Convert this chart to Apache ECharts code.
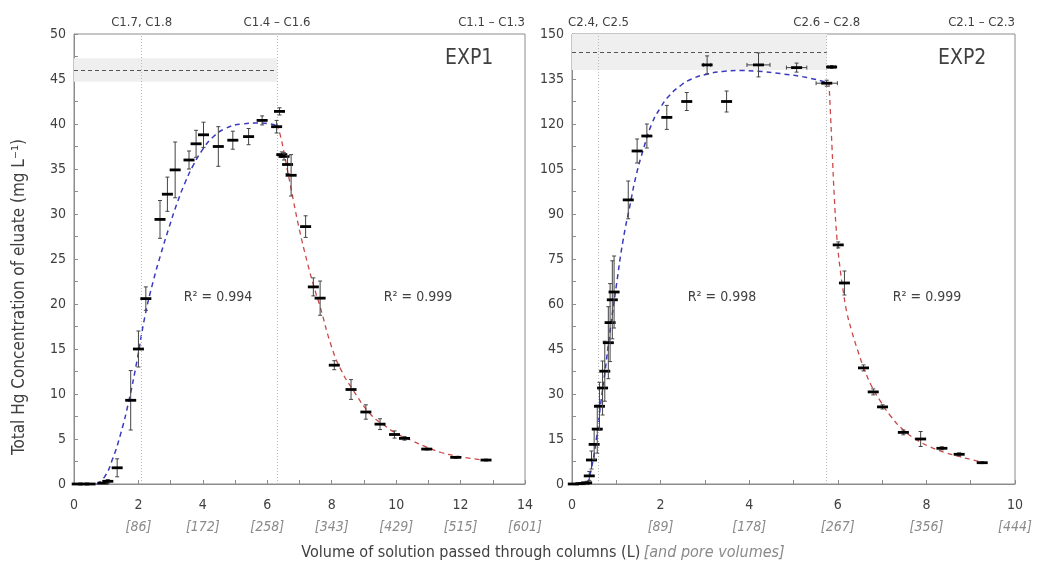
<!DOCTYPE html>
<html>
<head>
<meta charset="utf-8">
<script src="https://cdn.jsdelivr.net/npm/echarts@6/dist/echarts.min.js"></script>
<style>
html, body { margin: 0; background: #fff; }
#main { width: 1037px; height: 569px; }
</style>
</head>
<body>
<div id="main"></div>
<script>
// EXP1 measured points: volume (L), Hg (mg/L), vertical error, horizontal error
var volL = [0.1, 0.3, 0.5, 0.9, 1.05, 1.34, 1.76, 2.0, 2.23, 2.67, 2.9, 3.14, 3.57, 3.79, 4.02, 4.48, 4.93, 5.42, 5.84, 6.29, 6.38, 6.45, 6.52, 6.63, 6.74, 7.19, 7.43, 7.64, 8.08, 8.6, 9.06, 9.5, 9.95, 10.26, 10.95, 11.85, 12.79];
var hgL  = [0, 0, 0, 0.1, 0.3, 1.8, 9.3, 15.0, 20.6, 29.4, 32.2, 34.9, 36.0, 37.8, 38.8, 37.5, 38.2, 38.6, 40.4, 39.7, 41.4, 36.6, 36.4, 35.5, 34.3, 28.6, 21.9, 20.65, 13.2, 10.5, 8.0, 6.65, 5.5, 5.07, 3.88, 2.96, 2.66];
var errL = [0, 0, 0, 0, 0.2, 1.0, 3.3, 2.0, 1.3, 2.1, 1.9, 3.1, 1.0, 1.5, 1.4, 2.2, 1.0, 0.9, 0.5, 0.7, 0.4, 0.3, 0.4, 1.0, 2.3, 1.2, 1.0, 1.9, 0.5, 1.1, 0.8, 0.6, 0.4, 0.2, 0.1, 0.1, 0.1];
var xErrL = [0, 0, 0, 0, 0, 0, 0, 0, 0, 0, 0, 0, 0, 0, 0, 0, 0, 0, 0, 0, 0, 0, 0, 0, 0, 0, 0, 0, 0, 0, 0, 0, 0, 0, 0, 0, 0];

// EXP2 measured points
var volR = [0.03, 0.2, 0.27, 0.33, 0.39, 0.44, 0.5, 0.57, 0.62, 0.69, 0.74, 0.82, 0.86, 0.91, 0.95, 1.27, 1.47, 1.69, 2.14, 2.59, 3.05, 3.49, 4.21, 5.07, 5.75, 5.86, 6.01, 6.15, 6.58, 6.8, 7.01, 7.48, 7.87, 8.35, 8.74, 9.26];
var hgR  = [0, 0.1, 0.2, 0.4, 2.7, 8.0, 13.2, 18.3, 25.9, 32.0, 37.6, 47.1, 53.8, 61.4, 64.0, 94.7, 111.0, 116.0, 122.2, 127.5, 139.7, 127.5, 139.7, 138.8, 133.6, 139.0, 79.7, 67.0, 38.7, 30.7, 25.7, 17.2, 15.0, 11.9, 9.9, 7.1];
var errR = [0, 0, 0, 0.5, 1.5, 3, 5, 8, 8, 9, 10, 12, 13, 13, 12, 6.3, 4, 4, 4, 3, 3, 3.5, 4, 1.5, 1, 0.5, 1, 4, 1, 1, 0.7, 0.8, 2.5, 0.5, 0.5, 0.3];
var xErrR = [0, 0, 0, 0, 0, 0, 0, 0, 0, 0, 0, 0, 0, 0, 0, 0, 0, 0, 0, 0, 0.08, 0, 0.26, 0.23, 0.24, 0.08, 0, 0, 0, 0, 0, 0, 0, 0, 0, 0];

// fitted curves
var fitUpL = [[0.7, 0], [0.95, 0.8], [1.2, 2.8], [1.45, 5.6], [1.7, 9.2], [1.95, 13.6], [2.2, 18.6], [2.45, 22.4], [2.7, 25.6], [2.95, 28.5], [3.2, 31.2], [3.45, 33.5], [3.7, 35.4], [4.0, 37.2], [4.3, 38.5], [4.7, 39.5], [5.2, 40.0], [5.7, 40.1], [6.1, 40.0], [6.3, 39.8]];
var fitDownL = [[6.3, 40.0], [6.4, 38.8], [6.5, 37.2], [6.63, 34.8], [6.81, 31.5], [7.0, 28.2], [7.23, 24.8], [7.45, 21.9], [7.64, 19.7], [8.0, 15.2], [8.3, 12.6], [8.67, 10.4], [9.19, 7.8], [9.6, 6.6], [10.02, 5.6], [10.5, 4.8], [10.95, 4.1], [11.4, 3.5], [11.88, 3.1], [12.3, 2.85], [12.82, 2.6]];
var fitUpR = [[0.35, 0], [0.45, 6], [0.55, 15], [0.65, 27], [0.75, 38], [0.85, 50], [1.0, 66], [1.15, 81], [1.31, 93], [1.45, 103], [1.6, 111], [1.8, 120], [2.0, 125.5], [2.2, 129.5], [2.45, 132.8], [2.7, 135], [3.04, 136.6], [3.4, 137.5], [3.8, 137.8], [4.2, 137.6], [4.7, 136.8], [5.3, 135.5], [5.75, 133.8]];
var fitDownR = [[5.8, 134], [5.83, 125], [5.87, 112], [5.92, 96], [5.98, 82], [6.05, 72], [6.12, 64.5], [6.2, 57.5], [6.31, 51.2], [6.45, 44.5], [6.58, 39], [6.75, 33], [6.95, 27.9], [7.2, 22.5], [7.48, 18], [7.75, 15], [8.08, 12.4], [8.4, 10.6], [8.76, 9.1], [9.05, 8], [9.36, 6.9]];

// column markers and influent band
var colLinesL = [2.1, 6.3, 14];
var colNamesL = ['C1.7, C1.8', 'C1.4 \u2013 C1.6', 'C1.1 \u2013 C1.3'];
var colLinesR = [0.6, 5.75, 10];
var colNamesR = ['C2.4, C2.5', 'C2.6 \u2013 C2.8', 'C2.1 \u2013 C2.3'];
var bandL = [44.7, 46.0, 47.3];
var bandR = [138, 143.8, 150];

var poreL = ['', '[86]', '[172]', '[258]', '[343]', '[429]', '[515]', '[601]'];
var poreR = ['', '[89]', '[178]', '[267]', '[356]', '[444]'];

var FONT = "'Liberation Sans Narrow', 'Arial Narrow', 'DejaVu Sans Condensed', sans-serif";
var AX = '#8c8c8c';

function zip(xs, ys, ey, ex) {
	return xs.map(function (x, i) { return [x, ys[i], ey[i], ex[i]]; });
}

function drawPts(params, api) {
	var x = api.value(0), y = api.value(1), ey = api.value(2), ex = api.value(3);
	var c = api.coord([x, y]);
	var st = { stroke: '#444', lineWidth: 1 };
	var kids = [];
	if (ey > 0) {
		var t = api.coord([x, y + ey])[1], b = api.coord([x, y - ey])[1];
		kids.push({ type: 'line', shape: { x1: c[0], y1: t, x2: c[0], y2: b }, style: st });
		kids.push({ type: 'line', shape: { x1: c[0] - 2, y1: t, x2: c[0] + 2, y2: t }, style: st });
		kids.push({ type: 'line', shape: { x1: c[0] - 2, y1: b, x2: c[0] + 2, y2: b }, style: st });
	}
	if (ex > 0) {
		var l = api.coord([x - ex, y])[0], r = api.coord([x + ex, y])[0];
		kids.push({ type: 'line', shape: { x1: l, y1: c[1], x2: r, y2: c[1] }, style: st });
		kids.push({ type: 'line', shape: { x1: l, y1: c[1] - 2, x2: l, y2: c[1] + 2 }, style: st });
		kids.push({ type: 'line', shape: { x1: r, y1: c[1] - 2, x2: r, y2: c[1] + 2 }, style: st });
	}
	kids.push({ type: 'rect', shape: { x: c[0] - 5.5, y: c[1] - 1.4, width: 11, height: 2.8 }, style: { fill: '#000' } });
	return { type: 'group', children: kids };
}

function colMarks(pos, names) {
	return pos.map(function (p, i) {
		var last = i === pos.length - 1;
		return {
			xAxis: p,
			lineStyle: { color: last ? 'transparent' : '#b8b8b8', type: [1, 2], width: 1 },
			label: { formatter: names[i], align: last ? 'right' : 'center' }
		};
	});
}

function xMain(g, max) {
	return {
		type: 'value', gridIndex: g, min: 0, max: max, interval: 2,
		axisLine: { lineStyle: { color: AX } },
		axisTick: { inside: true, length: 4, lineStyle: { color: AX } },
		minorTick: { show: true, splitNumber: 2, length: 4, lineStyle: { color: AX } },
		splitLine: { show: false },
		axisLabel: { color: '#404040', fontSize: 14, fontFamily: FONT, margin: 14 }
	};
}

function xPore(g, max, labels) {
	return {
		type: 'value', gridIndex: g, min: 0, max: max, interval: 2, position: 'bottom', offset: 22,
		axisLine: { show: false }, axisTick: { show: false }, splitLine: { show: false },
		axisLabel: {
			color: '#8a8a8a', fontSize: 14, fontStyle: 'italic', fontFamily: FONT, margin: 14,
			formatter: function (v) { return labels[Math.round(v / 2)] || ''; }
		}
	};
}

function yMain(g, max, step) {
	return {
		type: 'value', gridIndex: g, min: 0, max: max, interval: step,
		axisLine: { show: true, lineStyle: { color: AX } },
		axisTick: { show: true, inside: true, length: 4, lineStyle: { color: AX } },
		minorTick: { show: true, splitNumber: 2, length: 4, lineStyle: { color: AX } },
		splitLine: { show: false },
		axisLabel: { color: '#404040', fontSize: 14, fontFamily: FONT, margin: 8 }
	};
}

var chart = echarts.init(document.getElementById('main'));

var option = {
	animation: false,
	backgroundColor: '#fff',
	grid: [
		{ left: 74, top: 34, width: 451, height: 450, show: true, borderColor: AX, borderWidth: 1 },
		{ left: 572, top: 34, width: 443, height: 450, show: true, borderColor: AX, borderWidth: 1 }
	],
	xAxis: [xMain(0, 14), xMain(1, 10), xPore(0, 14, poreL), xPore(1, 10, poreR)],
	yAxis: [yMain(0, 50, 5), yMain(1, 150, 15)],
	graphic: [
		{ type: 'text', left: 445, top: 48, style: { text: 'EXP1', fontSize: 21, fill: '#404040', fontFamily: FONT } },
		{ type: 'text', left: 938, top: 48, style: { text: 'EXP2', fontSize: 21, fill: '#404040', fontFamily: FONT } },
		{ type: 'text', x: 218, y: 297, style: { text: 'R\u00b2 = 0.994', fontSize: 14, fill: '#404040', fontFamily: FONT, align: 'center', verticalAlign: 'middle' } },
		{ type: 'text', x: 418, y: 297, style: { text: 'R\u00b2 = 0.999', fontSize: 14, fill: '#404040', fontFamily: FONT, align: 'center', verticalAlign: 'middle' } },
		{ type: 'text', x: 722, y: 297, style: { text: 'R\u00b2 = 0.998', fontSize: 14, fill: '#404040', fontFamily: FONT, align: 'center', verticalAlign: 'middle' } },
		{ type: 'text', x: 927, y: 297, style: { text: 'R\u00b2 = 0.999', fontSize: 14, fill: '#404040', fontFamily: FONT, align: 'center', verticalAlign: 'middle' } },
		{
			type: 'text', x: 20, y: 297, rotation: Math.PI / 2,
			style: { text: 'Total Hg Concentration of eluate (mg L\u207b\u00b9)', fontSize: 17, fill: '#404040', fontFamily: FONT, align: 'center', verticalAlign: 'middle' }
		},
		{
			type: 'text', x: 543, y: 553,
			style: {
				text: '{a|Volume of solution passed through columns (L)} {b|[and pore volumes]}',
				align: 'center', verticalAlign: 'middle',
				rich: {
					a: { fontSize: 16, fill: '#404040', color: '#404040', fontFamily: FONT },
					b: { fontSize: 16, fill: '#8a8a8a', color: '#8a8a8a', fontStyle: 'italic', fontFamily: FONT }
				}
			}
		}
	],
	series: [
		{
			type: 'line', xAxisIndex: 0, yAxisIndex: 0, data: [], silent: true,
			markArea: {
				silent: true, itemStyle: { color: '#efefef' },
				data: [[{ coord: [0, bandL[0]] }, { coord: [colLinesL[1], bandL[2]] }]]
			},
			markLine: {
				silent: true, symbol: 'none',
				label: { position: 'end', color: '#404040', fontSize: 13, fontFamily: FONT, distance: 5 },
				data: colMarks(colLinesL, colNamesL).concat([[
					{ coord: [0, bandL[1]], lineStyle: { color: '#555', type: [4, 3], width: 1 }, label: { show: false } },
					{ coord: [colLinesL[1], bandL[1]] }
				]])
			}
		},
		{
			type: 'line', xAxisIndex: 1, yAxisIndex: 1, data: [], silent: true,
			markArea: {
				silent: true, itemStyle: { color: '#efefef' },
				data: [[{ coord: [0, bandR[0]] }, { coord: [colLinesR[1], bandR[2]] }]]
			},
			markLine: {
				silent: true, symbol: 'none',
				label: { position: 'end', color: '#404040', fontSize: 13, fontFamily: FONT, distance: 5 },
				data: colMarks(colLinesR, colNamesR).concat([[
					{ coord: [0, bandR[1]], lineStyle: { color: '#555', type: [4, 3], width: 1 }, label: { show: false } },
					{ coord: [colLinesR[1], bandR[1]] }
				]])
			}
		},
		{ type: 'line', xAxisIndex: 0, yAxisIndex: 0, data: fitUpL, smooth: true, showSymbol: false, lineStyle: { color: '#3b3bbf', width: 1.5, type: [5, 4] } },
		{ type: 'line', xAxisIndex: 0, yAxisIndex: 0, data: fitDownL, smooth: true, showSymbol: false, lineStyle: { color: '#c94a4a', width: 1.3, type: [5, 4] } },
		{ type: 'line', xAxisIndex: 1, yAxisIndex: 1, data: fitUpR, smooth: true, showSymbol: false, lineStyle: { color: '#3b3bbf', width: 1.5, type: [5, 4] } },
		{ type: 'line', xAxisIndex: 1, yAxisIndex: 1, data: fitDownR, smooth: true, showSymbol: false, lineStyle: { color: '#c94a4a', width: 1.3, type: [5, 4] } },
		{ type: 'custom', xAxisIndex: 0, yAxisIndex: 0, renderItem: drawPts, encode: { x: 0, y: 1 }, data: zip(volL, hgL, errL, xErrL), z: 5 },
		{ type: 'custom', xAxisIndex: 1, yAxisIndex: 1, renderItem: drawPts, encode: { x: 0, y: 1 }, data: zip(volR, hgR, errR, xErrR), z: 5 }
	]
};

chart.setOption(option);
</script>
</body>
</html>
